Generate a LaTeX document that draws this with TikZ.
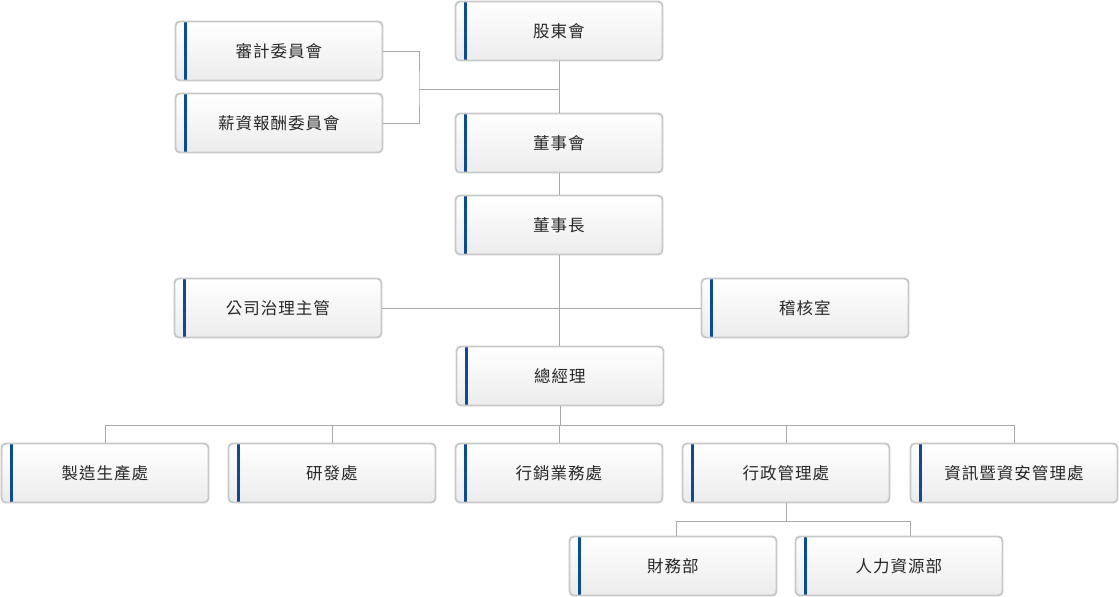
\documentclass[tikz,border=0pt]{standalone}
\usepackage{fontspec}
\setmainfont{Noto Sans CJK TC}
\definecolor{boxline}{RGB}{200,200,200}
\definecolor{boxfill}{RGB}{236,236,236}
\definecolor{barblue}{RGB}{8,76,160}
\definecolor{linkgray}{RGB}{170,170,170}
\definecolor{txtgray}{RGB}{40,40,40}
\begin{document}
\begin{tikzpicture}[x=0.02cm, y=-0.02cm,
  unit/.style={draw=boxline, line width=1.1pt, rounded corners=2.5pt,
    top color=white, bottom color=boxfill,
    minimum width=4.14cm, minimum height=1.18cm, inner sep=0pt,
    font=\fontsize{9.4}{11}\selectfont\addfontfeature{LetterSpace=6}, text=txtgray,
    path picture={\fill[barblue, sharp corners]
      ([xshift=0.17cm]path picture bounding box.north west) rectangle
      ([xshift=0.225cm]path picture bounding box.south west);}},
  link/.style={draw=linkgray, line width=0.55pt}]
\useasboundingbox (0,0) rectangle (1119,597);
% board level
\node[unit] (share) at (559,31) {股東會};
\node[unit] (audc) at (279,51) {審計委員會};
\node[unit] (payc) at (279,123) {薪資報酬委員會};
\node[unit] (board) at (559,143) {董事會};
\node[unit] (chair) at (559,225) {董事長};
\node[unit] (gov) at (278,308) {公司治理主管};
\node[unit] (audit) at (805,308) {稽核室};
\node[unit] (ceo) at (560,376) {總經理};
% divisions
\node[unit] (mfg) at (105,473) {製造生產處};
\node[unit] (rnd) at (332,473) {研發處};
\node[unit] (sales) at (559,473) {行銷業務處};
\node[unit] (admin) at (786,473) {行政管理處};
\node[unit] (infosec) at (1014,473) {資訊暨資安管理處};
\node[unit] (fin) at (673,566) {財務部};
\node[unit] (hr) at (899,566) {人力資源部};
% links
\coordinate (cj) at (419,89);
\coordinate (ceobus) at (560,425);
\coordinate (admbus) at (786,521);
\coordinate (finj) at (676,521);
\coordinate (hrj) at (910,521);
\draw[link] (share) -- (board);
\draw[link] (audc.east) -| (cj) |- (payc.east);
\draw[link] (cj) -- (cj -| share);
\draw[link] (board) -- (chair);
\draw[link] (chair.south) -- (chair.south |- ceo.north);
\draw[link] (gov) -- (audit);
\draw[link] (ceo) -- (ceobus);
\draw[link] (ceobus -| mfg) -- (ceobus -| infosec);
\foreach \n in {mfg,rnd,sales,admin,infosec}
  \draw[link] (ceobus -| \n) -- (\n.north);
\draw[link] (admin) -- (admbus);
\draw[link] (finj) -- (hrj);
\draw[link] (finj) -- (finj |- fin.north);
\draw[link] (hrj) -- (hrj |- hr.north);
\end{tikzpicture}
\end{document}
